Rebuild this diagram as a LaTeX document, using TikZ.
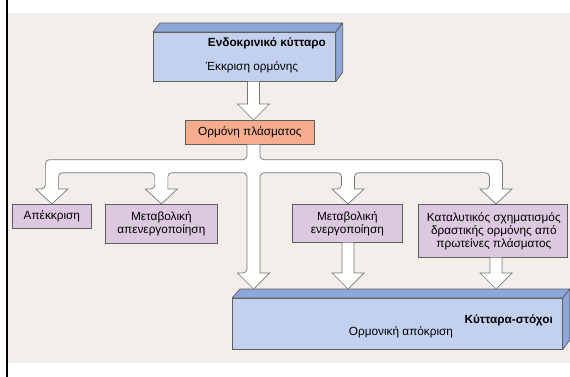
\documentclass[tikz,border=0pt]{standalone}
\usepackage{fontspec}
\setmainfont{Liberation Sans}
\usetikzlibrary{calc}
\definecolor{bg}{HTML}{F2EFEA}
\definecolor{bluefront}{HTML}{C3D1EE}
\definecolor{bluedark}{HTML}{8DA7DB}
\definecolor{orangef}{HTML}{F5AD8E}
\definecolor{purplef}{HTML}{DCC9DF}
\definecolor{edge}{HTML}{5E5E5E}
\newcommand\blockarrow[2]{%
  \filldraw[pipe] let \p1=(#1), \p2=(#2) in
    (\x1-6pt,\y1) -- (\x1-6pt,\y2+16pt) -- (\x1-16pt,\y2+16pt) -- (\x1,\y2)
    -- (\x1+16pt,\y2+16pt) -- (\x1+6pt,\y2+16pt) -- (\x1+6pt,\y1);}
\begin{document}
\begin{tikzpicture}[x=1pt,y=-1pt,
  box/.style={draw=edge, line width=0.7pt, inner sep=0pt, anchor=north west},
  face/.style={fill=bluedark, draw=edge, line width=0.7pt, line join=round},
  txt/.style={font=\fontsize{11.8}{13}\selectfont, align=center, inner sep=0pt},
  btxt/.style={font=\fontsize{11.8}{13}\selectfont\bfseries, inner sep=0pt},
  pipe/.style={fill=white, draw=edge!85, line width=0.7pt, line join=miter}]
\useasboundingbox (0,0) rectangle (570,377);
\fill[bg] (8,13) rectangle (570,363);
\fill[black] (5.5,0) rectangle (8,377);

% columns of arrows
\coordinate (trunk) at (253.5,0);
\coordinate (colC) at (348,0);
\coordinate (colD) at (496,0);

% top 3D box
\node[box, fill=bluefront, minimum width=182pt, minimum height=49pt] (endo) at (153,32) {};
\draw[face] (endo.north west) -- ++(7,-9) -- ++(182,0) -- (endo.north east) -- cycle;
\draw[face] (endo.north east) -- ++(7,-9) -- ++(0,49) -- (endo.south east) -- cycle;
\node[btxt, anchor=east] (endoT) at (326,43) {Ενδοκρινικό κύτταρο};
\node[txt] (endoS) at (252,67) {Έκκριση ορμόνης};

% plasma hormone
\node[box, fill=orangef, minimum width=129pt, minimum height=24pt] (plasma) at (185,120) {};
\node[txt] (plasmaT) at (plasma.center) {Ορμόνη πλάσματος};

% purple boxes
\node[box, fill=purplef, minimum width=79pt, minimum height=24pt] (A) at (12,204) {};
\node[txt] (AT) at (A.center) {Απέκκριση};
\node[box, fill=purplef, minimum width=112pt, minimum height=39pt] (B) at (105,204) {};
\node[txt] (BT) at (B.center) {Μεταβολική\\απενεργοποίηση};
\node[box, fill=purplef, minimum width=110pt, minimum height=38pt] (C) at (292,204) {};
\node[txt] (CT) at (C.center) {Μεταβολική\\ενεργοποίηση};
\node[box, fill=purplef, minimum width=149pt, minimum height=53pt] (D) at (418,204) {};
\node[txt] (DT) at ($(D.center)+(1,0)$) {Καταλυτικός σχηματισμός\\δραστικής ορμόνης από\\πρωτείνες πλάσματος};

% bottom 3D box
\node[box, fill=bluefront, minimum width=330pt, minimum height=51pt] (target) at (232,298) {};
\draw[face] (target.north west) -- ++(8,-9) -- ++(330,0) -- (target.north east) -- cycle;
\draw[face] (target.north east) -- ++(7,-9) -- ++(0,51) -- (target.south east) -- cycle;
\coordinate (bottop) at ($(target.north west)+(0,-9)$);
\node[btxt, anchor=east] (targetT) at (553,320) {Κύτταρα-στόχοι};
\node[txt] (targetS) at (401,332) {Ορμονική απόκριση};

% arrows
\blockarrow{endo.south -| trunk}{plasma.north -| trunk}
\blockarrow{C.south -| colC}{bottop -| colC}
\blockarrow{D.south -| colD}{bottop -| colD}

\filldraw[pipe] let \p0=(plasma.south -| trunk), \p1=(A.north), \p2=(B.north),
  \p3=(C.north -| colC), \p4=(D.north -| colD), \p5=(bottop -| trunk) in
  (\x0-6.5pt,\y0) [rounded corners=4pt] -- (\x0-6.5pt,\y0-15pt) -- (\x1-6.5pt,\y0-15pt)
  -- (\x1-6.5pt,\y1+15pt) [sharp corners] -- (\x1-16pt,\y1+15pt) -- (\x1,\y1)
  -- (\x1+16pt,\y1+15pt) -- (\x1+6.5pt,\y1+15pt) [rounded corners=4pt]
  -- (\x1+6.5pt,\y0-28pt) -- (\x2-6.5pt,\y0-28pt)
  -- (\x2-6.5pt,\y2+15pt) [sharp corners] -- (\x2-16pt,\y2+15pt) -- (\x2,\y2)
  -- (\x2+16pt,\y2+15pt) -- (\x2+6.5pt,\y2+15pt) [rounded corners=4pt]
  -- (\x2+6.5pt,\y0-28pt) -- (\x0-6.5pt,\y0-28pt)
  -- (\x0-6.5pt,\y5+16pt) [sharp corners] -- (\x0-16pt,\y5+16pt) -- (\x0,\y5)
  -- (\x0+16pt,\y5+16pt) -- (\x0+6.5pt,\y5+16pt) [rounded corners=4pt]
  -- (\x0+6.5pt,\y0-28pt) -- (\x3-6.5pt,\y0-28pt)
  -- (\x3-6.5pt,\y3+15pt) [sharp corners] -- (\x3-16pt,\y3+15pt) -- (\x3,\y3)
  -- (\x3+16pt,\y3+15pt) -- (\x3+6.5pt,\y3+15pt) [rounded corners=4pt]
  -- (\x3+6.5pt,\y0-28pt) -- (\x4-6.5pt,\y0-28pt)
  -- (\x4-6.5pt,\y4+15pt) [sharp corners] -- (\x4-16pt,\y4+15pt) -- (\x4,\y4)
  -- (\x4+16pt,\y4+15pt) -- (\x4+6.5pt,\y4+15pt) [rounded corners=4pt]
  -- (\x4+6.5pt,\y0-15pt) -- (\x0+6.5pt,\y0-15pt) [sharp corners] -- (\x0+6.5pt,\y0);
\end{tikzpicture}
\end{document}
